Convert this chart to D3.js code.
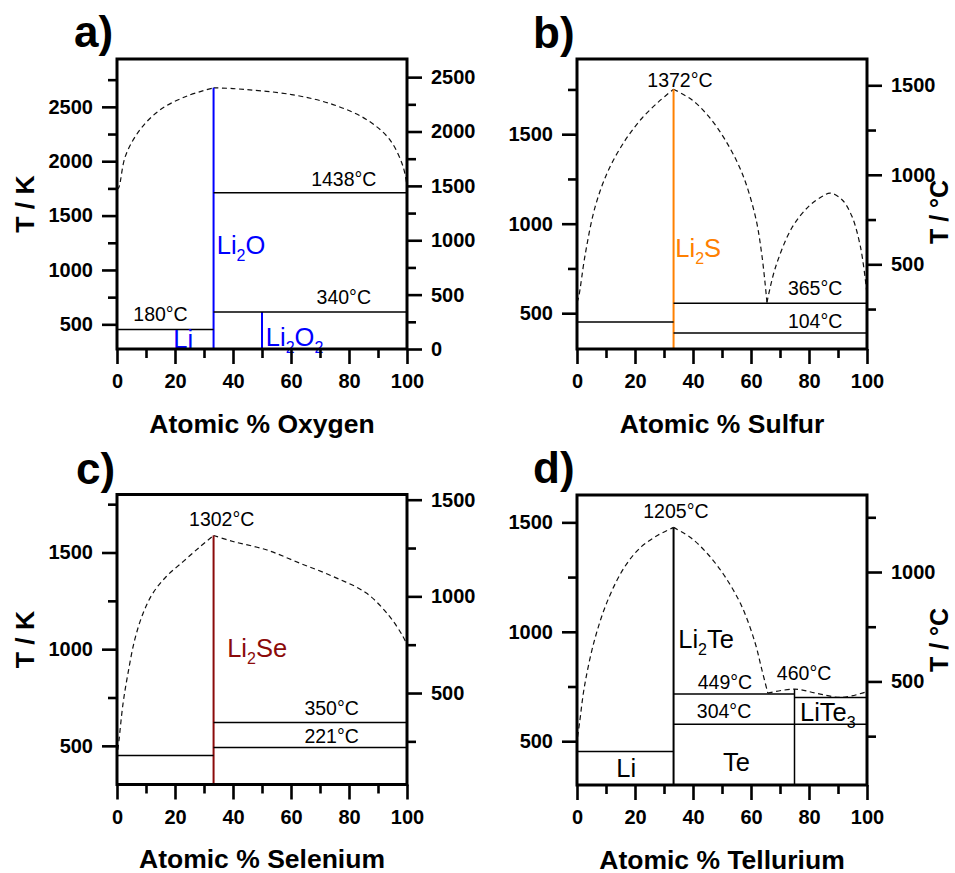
<!DOCTYPE html>
<html><head><meta charset="utf-8">
<script src="https://cdn.jsdelivr.net/npm/d3@7"></script>
<style>
body{margin:0;background:#fff;}
svg{display:block;font-family:"Liberation Sans",Arial,sans-serif;}
</style></head><body>
<svg id="chart" width="955" height="873"></svg>
<script>
// ---------- shared ----------
const xTicksMajor = [0, 20, 40, 60, 80, 100];
const xTicksMinor = [10, 30, 50, 70, 90];

// ---------- panel a : Li–O ----------
const aLetter = "a)";
const aXLabel = "Atomic % Oxygen";
const aYDomain = [273.15, 2940];
const aKMajor = [500, 1000, 1500, 2000, 2500];
const aKMinor = [750, 1250, 1750, 2250, 2750];
const aCMajor = [0, 500, 1000, 1500, 2000, 2500];
const aCMinor = [250, 750, 1250, 1750, 2250];
const aLiquidus = [
  [[0, 1740], [0.6, 1756], [2.9, 2047], [8, 2292], [15, 2475], [24, 2598], [33.3, 2675]],
  [[33.3, 2675], [40, 2668], [60.2, 2613], [74.5, 2521], [86, 2384], [94, 2200], [98.6, 1955], [100, 1771]]
];
const aLines = [[33.3, 273.15, 33.3, 2675, "phase"], [50, 273.15, 50, 613, "phase"],
  [33.3, 1711, 100, 1711, "k"], [33.3, 613, 100, 613, "k"], [0, 453, 33.3, 453, "k"]];
const aTemps = [["1438°C", 78.2, 1770], ["340°C", 78.2, 684], ["180°C", 15, 530]];
const aPhases = [["Li_2O", 34.4, 1143, "start"], ["Li", 19.4, 283, "start"], ["Li_2O_2", 51.3, 297, "start"]];

// ---------- panel b : Li–S ----------
const bLetter = "b)";
const bXLabel = "Atomic % Sulfur";
const bYDomain = [300, 1920];
const bKMajor = [500, 1000, 1500];
const bKMinor = [750, 1250, 1750];
const bCMajor = [500, 1000, 1500];
const bCMinor = [250, 750, 1250];
const bLiquidus = [
  [[0, 560], [0.6, 593], [2.9, 835], [6.3, 1097], [10.9, 1301], [16.7, 1468], [22.4, 1589], [28.2, 1682], [33.3, 1751]],
  [[33.3, 1751], [39.7, 1691], [45.4, 1599], [51.1, 1468], [56.9, 1283], [61.5, 1041], [63.8, 818], [65.5, 560]],
  [[65.5, 560], [68.4, 754], [74.1, 977], [79.9, 1097], [84.5, 1152], [87.4, 1171], [91.4, 1134], [94.8, 1041], [97.7, 874], [99.7, 651], [100, 600]]
];
const bLines = [[33.3, 300, 33.3, 1751, "phase"], [33.3, 556, 100, 556, "k"],
  [33.3, 390, 100, 390, "k"], [0, 451, 33.3, 451, "k"]];
const bTemps = [["1372°C", 35.5, 1766], ["365°C", 82.1, 602], ["104°C", 82.1, 416]];
const bPhases = [["Li_2S", 33.9, 816, "start"]];

// ---------- panel c : Li–Se ----------
const cLetter = "c)";
const cXLabel = "Atomic % Selenium";
const cYDomain = [300, 1800];
const cKMajor = [500, 1000, 1500];
const cKMinor = [750, 1250, 1750];
const cCMajor = [500, 1000, 1500];
const cCMinor = [250, 750, 1250];
const cLiquidus = [
  [[0.3, 480], [0.7, 531], [2.1, 721], [3.8, 876], [6.1, 1048], [9, 1186], [12.4, 1290], [17, 1376], [22.8, 1453], [28.5, 1528], [33.3, 1588]],
  [[33.3, 1588], [40, 1557], [51.5, 1514], [63, 1445], [74.5, 1376], [86, 1290], [94, 1169], [98.6, 1066], [100, 1022]]
];
const cLines = [[33.3, 300, 33.3, 1588, "phase"], [33.3, 621, 100, 621, "k"],
  [33.3, 492, 100, 492, "k"], [0, 450, 33.3, 450, "k"]];
const cTemps = [["1302°C", 36.1, 1638], ["350°C", 74, 660], ["221°C", 74, 514]];
const cPhases = [["Li_2Se", 38, 959, "start"]];

// ---------- panel d : Li–Te ----------
const dLetter = "d)";
const dXLabel = "Atomic % Tellurium";
const dYDomain = [300, 1625];
const dKMajor = [500, 1000, 1500];
const dKMinor = [750, 1250];
const dCMajor = [500, 1000];
const dCMinor = [250, 750, 1250];
const dLiquidus = [
  [[0.2, 520], [0.9, 586], [2.6, 753], [6.1, 965], [10.7, 1147], [16.5, 1298], [22.2, 1389], [28, 1442], [33.3, 1477]],
  [[33.3, 1477], [39.5, 1427], [45.3, 1352], [51, 1253], [56.8, 1117], [61.4, 950], [63.7, 829], [65.8, 720]],
  [[65.8, 720], [75, 738], [83, 718], [91.4, 700], [100, 727]]
];
const dLines = [[33.3, 300, 33.3, 1477, "phase"], [33.3, 716, 75, 716, "k"], [33.3, 578, 100, 578, "k"],
  [0, 453, 33.3, 453, "k"], [75, 300, 75, 738, "k"], [75, 700, 100, 700, "k"]];
const dTemps = [["1205°C", 34.1, 1518], ["449°C", 51, 739], ["460°C", 78.3, 778], ["304°C", 50.7, 607]];
const dPhases = [["Li_2Te", 34.9, 926, "start"], ["LiTe_3", 76.9, 591, "start"],
  ["Li", 17, 338, "middle"], ["Te", 55, 364, "middle"]];

// ---------- assemble ----------
const panels = [
  {letter: aLetter, xLabel: aXLabel, yDomain: aYDomain, kMajor: aKMajor, kMinor: aKMinor, cMajor: aCMajor, cMinor: aCMinor,
   liquidus: aLiquidus, lines: aLines, temps: aTemps, phases: aPhases, color: "#0000ff",
   ox: 117, oy: 59, lx: 74, ly: 47, leftTitle: true, rightTitle: false},
  {letter: bLetter, xLabel: bXLabel, yDomain: bYDomain, kMajor: bKMajor, kMinor: bKMinor, cMajor: bCMajor, cMinor: bCMinor,
   liquidus: bLiquidus, lines: bLines, temps: bTemps, phases: bPhases, color: "#ff8000",
   ox: 577, oy: 59, lx: 533, ly: 48, leftTitle: false, rightTitle: true, rtY: 212},
  {letter: cLetter, xLabel: cXLabel, yDomain: cYDomain, kMajor: cKMajor, kMinor: cKMinor, cMajor: cCMajor, cMinor: cCMinor,
   liquidus: cLiquidus, lines: cLines, temps: cTemps, phases: cPhases, color: "#8b0a0a",
   ox: 117, oy: 494.5, lx: 76, ly: 484, leftTitle: true, rightTitle: false},
  {letter: dLetter, xLabel: dXLabel, yDomain: dYDomain, kMajor: dKMajor, kMinor: dKMinor, cMajor: dCMajor, cMinor: dCMinor,
   liquidus: dLiquidus, lines: dLines, temps: dTemps, phases: dPhases, color: "#000000",
   ox: 577, oy: 495, lx: 533, ly: 483, leftTitle: false, rightTitle: true, rtY: 640}
];

const W = 290, H = 290;
const svg = d3.select("#chart");

function styleAxis(sel, labels) {
  sel.select(".domain").remove();
  sel.selectAll(".tick line").attr("stroke", "#000").attr("stroke-width", 2.6);
  sel.selectAll(".tick text").attr("fill", "#000")
    .style("font-family", '"Liberation Sans",Arial,sans-serif')
    .style("font-weight", "bold").style("font-size", "20px");
  if (!labels) sel.selectAll(".tick text").remove();
}

function phaseText(g, str, xp, yp, anchor, color) {
  const t = g.append("text").attr("x", xp).attr("y", yp).attr("text-anchor", anchor)
    .attr("fill", color).style("font-size", "25.5px");
  const parts = str.split(/(_.)/).filter(s => s.length);
  let sub = false;
  parts.forEach(s => {
    if (s[0] === "_") {
      t.append("tspan").text(s[1]).style("font-size", "16px").attr("dy", 7);
      sub = true;
    } else {
      const ts = t.append("tspan").text(s);
      if (sub) { ts.attr("dy", -7); sub = false; }
    }
  });
}

panels.forEach(p => {
  const g = svg.append("g").attr("transform", `translate(${p.ox},${p.oy})`);
  const x = d3.scaleLinear().domain([0, 100]).range([0, W]);
  const y = d3.scaleLinear().domain(p.yDomain).range([H, 0]);
  const yc = d3.scaleLinear().domain(p.yDomain.map(v => v - 273.15)).range([H, 0]);

  // dashed liquidus
  const line = d3.line().x(d => x(d[0])).y(d => y(d[1])).curve(d3.curveCatmullRom.alpha(0.5));
  p.liquidus.forEach(seg => {
    g.append("path").attr("d", line(seg)).attr("fill", "none").attr("stroke", "#111")
      .attr("stroke-width", 1.2).attr("stroke-dasharray", "5,3.5");
  });

  // solid phase lines
  p.lines.forEach(l => {
    const ph = l[4] === "phase";
    g.append("line").attr("x1", x(l[0])).attr("y1", y(l[1])).attr("x2", x(l[2])).attr("y2", y(l[3]))
      .attr("stroke", ph ? p.color : "#000").attr("stroke-width", ph ? 2 : 1.5);
  });

  // temperature labels
  p.temps.forEach(t => {
    g.append("text").attr("x", x(t[1])).attr("y", y(t[2])).attr("text-anchor", "middle")
      .attr("fill", "#000").style("font-size", "19.5px").text(t[0]);
  });

  // phase labels
  p.phases.forEach(ph => phaseText(g, ph[0], x(ph[1]), y(ph[2]), ph[3], p.color));

  // frame
  g.append("rect").attr("width", W).attr("height", H).attr("fill", "none")
    .attr("stroke", "#000").attr("stroke-width", 3);

  // axes
  styleAxis(g.append("g").call(d3.axisLeft(y).tickValues(p.kMinor).tickSize(9).tickSizeOuter(0)), false);
  styleAxis(g.append("g").call(d3.axisLeft(y).tickValues(p.kMajor).tickSize(15).tickPadding(9).tickSizeOuter(0).tickFormat(d3.format("d"))), true);
  styleAxis(g.append("g").attr("transform", `translate(${W},0)`)
    .call(d3.axisRight(yc).tickValues(p.cMinor).tickSize(9).tickSizeOuter(0)), false);
  styleAxis(g.append("g").attr("transform", `translate(${W},0)`)
    .call(d3.axisRight(yc).tickValues(p.cMajor).tickSize(15).tickPadding(9).tickSizeOuter(0).tickFormat(d3.format("d"))), true);
  styleAxis(g.append("g").attr("transform", `translate(0,${H})`)
    .call(d3.axisBottom(x).tickValues(xTicksMinor).tickSize(9).tickSizeOuter(0)), false);
  styleAxis(g.append("g").attr("transform", `translate(0,${H})`)
    .call(d3.axisBottom(x).tickValues(xTicksMajor).tickSize(15).tickPadding(10).tickSizeOuter(0)), true);

  // axis titles
  g.append("text").attr("x", W / 2).attr("y", H + 83.5).attr("text-anchor", "middle")
    .style("font-weight", "bold").style("font-size", "26.5px").text(p.xLabel);
  if (p.leftTitle) {
    g.append("text").attr("transform", `translate(${34 - p.ox},${H / 2}) rotate(-90)`)
      .attr("text-anchor", "middle").style("font-weight", "bold").style("font-size", "26.5px").text("T / K");
  }
  if (p.rightTitle) {
    g.append("text").attr("transform", `translate(${948 - p.ox},${p.rtY - p.oy}) rotate(-90)`)
      .attr("text-anchor", "middle").style("font-weight", "bold").style("font-size", "25px").text("T / °C");
  }

  // panel letter
  svg.append("text").attr("x", p.lx).attr("y", p.ly).style("font-weight", "bold")
    .style("font-size", "44px").text(p.letter);
});
</script>
</body></html>
